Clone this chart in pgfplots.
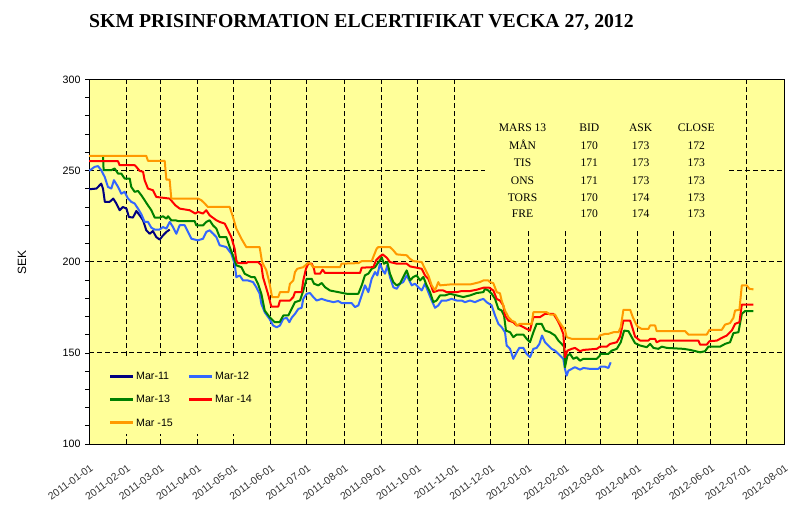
\documentclass[border=0pt]{standalone}
\usepackage{fontspec}
\setmainfont{Liberation Sans}
\newfontfamily\seriffont{Liberation Serif}
\usepackage{pgfplots}
\pgfplotsset{compat=1.18}
\definecolor{bgy}{RGB}{255,255,153}
\definecolor{cnavy}{RGB}{0,0,128}
\definecolor{cblue}{RGB}{51,102,255}
\definecolor{cgreen}{RGB}{0,128,0}
\definecolor{cred}{RGB}{255,0,0}
\definecolor{corange}{RGB}{255,153,0}
\begin{document}
\begin{tikzpicture}
\useasboundingbox (-66.9pt,-56.25pt) rectangle (542.1pt,333pt);
\begin{axis}[
  at={(0,0)}, anchor=south west,
  scale only axis, width=521.1pt, height=273.5pt,
  xmin=0, xmax=578, ymin=100, ymax=300,
  axis background/.style={fill=bgy},
  xtick={0,31,59,90,120,151,181,212,243,273,304,334,365,396,425,456,486,517,547,578},
  xticklabels={2011-01-01,2011-02-01,2011-03-01,2011-04-01,2011-05-01,2011-06-01,2011-07-01,2011-08-01,2011-09-01,2011-10-01,2011-11-01,2011-12-01,2012-01-01,2012-02-01,2012-03-01,2012-04-01,2012-05-01,2012-06-01,2012-07-01,2012-08-01},
  ytick={100,150,200,250,300},
  minor ytick={110,120,130,140,160,170,180,190,210,220,230,240,260,270,280,290},
  xtick pos=bottom, ytick pos=left,
  grid=major,
  major grid style={black, dash pattern=on 3.5pt off 2.5pt, line width=0.6pt},
  tick align=outside,
  major tick length=3pt, minor tick length=3pt,
  x tick style={draw=none},
  y tick style={black, line width=0.5pt},
  axis line style={black, line width=0.7pt},
  /pgf/number format/assume math mode=true,
  xticklabel style={font=\fontsize{7.8}{9}\selectfont, text=black!80, rotate=36, anchor=north east, inner sep=0.5pt, xshift=-6pt, yshift=-9pt},
  yticklabel style={font=\fontsize{8}{9}\selectfont},
  legend columns=2,
  legend cell align=left,
  legend style={at={(0.0275,0.2030)}, anchor=north west, draw=none, fill=none,
    inner sep=0pt, font=\fontsize{8}{9}\selectfont,
    nodes={text height=6pt, text depth=1pt, inner sep=1pt},
    row sep=8.5pt,
    /tikz/every even column/.append style={column sep=10pt}},
  legend image code/.code={\draw[#1, line width=2.2pt] (0pt,0pt) -- (17.5pt,0pt);},
  every axis plot/.append style={line width=1.5pt, line join=round},
]
\fill[bgy] (axis cs:329.3,217.2) rectangle (axis cs:531.4,299.6);
\fill[bgy] (axis cs:2.3,105.7) rectangle (axis cs:134,148);

% Mar-11
\addplot[cnavy] coordinates {(0,239.7)(6,240.1)(10,242.8)(11.5,240)(13,232.8)(17,232.8)(20,234.6)(22.6,231.9)(25.3,228.2)(28,230)(31,229.1)(33,224.5)(36.4,224.2)(39.2,227.8)(42,225.4)(44.8,222.7)(47.5,217.2)(50.3,215.3)(53,216.8)(55.8,213.5)(58.6,212.1)(61.4,214.4)(64.2,216.3)(67,217.6)};
\addlegendentry{Mar-11}
% Mar-12
\addplot[cblue] coordinates {(0,249.8)(4.5,252)(7.3,252.4)(10,250.2)(12.9,246.5)(15.6,241)(18.4,240.1)(20.6,244.7)(24,241)(26.7,237.3)(29.5,238.3)(32.3,234.6)(35,232.8)(37.8,231.9)(40.6,229.1)(43.4,226)(46.1,221.8)(48.9,221.8)(51.7,218.6)(54.5,217.6)(58.6,217.6)(61.4,219)(64.2,218.1)(67,221.8)(69.7,219)(72.5,215.3)(75.3,220)(79.4,220)(82.2,216.3)(85,212.6)(90.5,211.7)(94.7,212.6)(97.4,216.3)(100.2,217.2)(103,215.4)(105.8,213.5)(108.5,209)(114.1,208)(118.2,204.4)(121,198.9)(122.4,191.5)(125.2,192.4)(128,189.7)(132,189.7)(136.3,188.8)(139,186)(141.8,182.4)(143.2,176.9)(146,172.3)(150,168.6)(153,165)(156,164)(158.7,165)(161.5,168.7)(164.3,169.2)(166.5,166.8)(168.4,169.2)(171.2,171.4)(174,174.1)(176.7,174.7)(178.1,179.6)(180.9,182.4)(183.7,182.8)(186.4,180.6)(189.2,178.7)(193.4,179.6)(197.5,178.7)(203.1,177.8)(207.2,178.4)(210,177.3)(218.3,177.3)(221.1,175.1)(223.9,176)(226.7,181.5)(229.4,187)(232.2,183.3)(235,190.6)(237.8,194.3)(239.7,192.5)(241.9,198.9)(244.1,195.2)(246.1,193.4)(248,198)(250.2,191.6)(253,186)(255.8,185.1)(258.5,187.9)(261.3,188.8)(264.1,192.5)(266.3,189.7)(268.3,187)(271,187.9)(273.8,186)(276.6,184.2)(279.3,187.9)(282.1,183.3)(284.9,178.7)(287.7,174.7)(290.4,176)(293.2,178.7)(297.4,178.7)(301.5,179.6)(305.7,178.7)(309.9,178.7)(312.6,177.8)(316.8,178.7)(320.9,177.8)(325.1,179)(327.9,179.6)(330.6,177.8)(334.8,176)(337.6,170.5)(340.4,165.9)(343.1,164.1)(345.9,161.3)(347.3,154)(350.1,152.2)(352.8,146.7)(355.6,150.3)(357.8,152.7)(361.2,152.7)(363.9,149.4)(366.7,147.6)(369.5,152.2)(372.2,152.7)(374.5,154.9)(376.7,159.5)(379.2,155.8)(381.9,154)(384.7,152.2)(387.5,151.2)(391.7,148.5)(394.4,146.7)(395.8,141.2)(397.2,137.5)(398.6,140.2)(401.4,141.2)(404.1,142.1)(408.3,140.8)(411.1,141.7)(416.6,141.2)(423.5,141.2)(425.5,142.4)(429.1,142.4)(431.9,141.7)(433.8,144.8)};
\addlegendentry{Mar-12}
% Mar-13
\addplot[cgreen] coordinates {(11.5,257.4)(12,250.2)(18.4,250.2)(21.2,251.1)(24,248.3)(26.7,248.3)(29.5,245.6)(33.7,245.6)(35,241)(37.8,238.3)(40.6,238.8)(43.4,236.4)(46.1,233.7)(48.9,230.9)(51.7,228.2)(54.5,224.2)(58.6,224.2)(61.4,224.9)(64.2,223.6)(65.6,224.9)(68.3,222.7)(71.7,222.7)(73.9,222.3)(87.7,222.3)(89.1,219.9)(94.7,219.9)(97.4,221.8)(100.2,222.7)(103,219.9)(105.8,218.1)(108.5,213.5)(114.1,213.5)(116.9,208)(119.6,203.4)(122.4,198)(126.6,197)(129.3,193.4)(134.9,191.5)(137.7,191.5)(140.4,187.9)(143.2,182.4)(146,173.2)(150.1,169.6)(154.3,166.8)(158.4,166.8)(161.5,170.5)(165.7,170.5)(168.4,174.1)(171.2,177.8)(175.4,178.7)(178.1,184.2)(180.9,190.6)(185.1,190.6)(187,187.9)(190.6,187)(193.4,188.3)(196.2,186)(200.3,184.2)(207.2,183.3)(214.2,182.4)(223.9,182.4)(226.7,187)(229.4,192.5)(232.2,193.4)(235,196.1)(237.8,197)(239.7,198.9)(241.9,200.7)(243.3,202.5)(245.2,198.9)(248,199.8)(250.2,193.4)(253,188.8)(255.8,187)(258.5,187.9)(261.3,191.6)(264.1,195.2)(266.9,189.7)(269.6,191.6)(272.4,192.5)(275.2,189.7)(278,191.6)(280.7,187)(283.5,183.3)(286.3,177.8)(289,178.7)(291.8,181.5)(296,181.5)(300.1,182.4)(305.7,181.5)(311.2,180.6)(316.8,181.5)(322.3,182.8)(327.9,183.3)(329.3,185.1)(332,184.2)(334.8,182.4)(337.6,179.6)(340.4,174.1)(343.1,173.2)(345.1,170.5)(346.7,162.2)(350.1,161.3)(352.8,158.6)(355.6,160)(361.2,160)(363.9,157.7)(366.7,155.8)(369.5,161.3)(372.2,165.9)(376.4,165.9)(379.2,162.2)(383.3,161.3)(387.5,159.5)(390.3,156.7)(393,154.9)(395,153.4)(395.8,142.1)(397.8,148.5)(400,149.4)(402.7,146.7)(405.5,147.6)(408.3,145.7)(411.1,146.7)(422.2,146.7)(424.9,148.5)(425,149.4)(431.9,149.4)(434.7,151.2)(438.9,152.2)(442.2,155.8)(445,162.2)(448.6,161.9)(451.3,158.6)(454.1,155.3)(458.3,154)(463.8,153.1)(466.6,154.9)(469.4,152.7)(473.5,152.2)(476.3,153.4)(480.5,152.7)(494.3,152.2)(499.9,151.6)(508.2,150.3)(512.3,150.9)(515.1,153.4)(524.8,153.4)(529,154.9)(533.1,155.8)(535.9,160.8)(540.1,161.3)(542.9,171.4)(545.6,172.9)(552.6,172.9)};
\addlegendentry{Mar-13}
% Mar-14
\addplot[cred] coordinates {(0,255.1)(24,255.1)(25.3,252.9)(37.8,252.9)(39.2,252)(42,249.8)(44.8,249.3)(46.1,244.7)(48.9,240.1)(53,239.2)(55.8,235.5)(66.9,234.6)(71.7,230.9)(75.3,229.1)(83.6,228.2)(88.3,226.4)(90.5,227.3)(94.7,226.4)(97.4,228.2)(100.2,225.4)(105.8,222.7)(108.5,221.8)(112.7,220.9)(115.5,217.2)(118.2,213.5)(121,207.1)(122.4,200.7)(123.8,199.2)(130.7,199.2)(132.1,199.8)(140.4,199.8)(143.2,198)(144.6,191.5)(148.7,182.4)(151.5,175.4)(157.3,175.4)(158.7,178.7)(167,178.7)(169.8,180.6)(171.2,183.3)(176.7,183.3)(178.1,189.7)(180.3,196.1)(182.3,198.9)(185.1,198.9)(187,196.1)(187.8,193.4)(192,193.4)(194.2,195.6)(196.2,193.8)(225.3,193.8)(226.7,196.7)(236.4,197)(238.6,200.7)(241.9,202.9)(244.1,204)(247.5,202.2)(250.2,199.8)(255.8,198.9)(264.1,198.9)(266.9,197.4)(272.4,196.7)(276.6,196.1)(279.3,192.5)(282.1,190.6)(284.9,186)(286.3,183.3)(290.4,184.2)(294.6,184.2)(297.4,183.3)(305.7,183.3)(309.9,183.9)(316.8,183.9)(322.3,184.6)(327.9,185.7)(332.9,185.7)(336.2,184.2)(339,179.6)(341.7,178.7)(344.5,176)(345.9,170.5)(348.7,167.7)(352.8,166.8)(355.6,165)(358.4,165)(361.2,164.1)(363.9,163.1)(366.7,162.2)(369.5,169.6)(375,169.6)(379.2,171.4)(386.1,171.4)(388.9,168.6)(391.7,165)(394.4,160.4)(395.8,147.6)(397.8,151.2)(401.4,152.2)(404.1,152.7)(408.3,150.9)(411.1,151.6)(422.2,152.2)(424.9,153.4)(430.5,153.4)(433.3,154.9)(438.9,155.8)(441.6,158.9)(444.4,167.7)(450,167.7)(452.2,163.1)(454.1,158.9)(458.3,156.7)(465.2,156.7)(466.6,157.6)(470.8,157.6)(472.1,155.8)(474.9,156.7)(506.8,156.7)(508.2,154.5)(513.7,154.5)(516,156.4)(522.1,156.7)(526.2,158.2)(530.4,159.5)(534.5,162.2)(537.3,165.9)(540.9,166.8)(542.9,176.5)(552.6,176.5)};
\addlegendentry{Mar -14}
% Mar-15
\addplot[corange] coordinates {(0,258)(47.5,258)(48.9,255.3)(62.8,255.3)(64.2,245)(66.9,245)(68.3,234.6)(90.5,234.6)(93.3,233.7)(96.1,231.9)(98.8,230)(116.9,230)(119.6,224.5)(122.4,218.1)(126.6,212.6)(130.7,208)(141.8,208)(143.8,199.8)(147.4,195.2)(150.1,187.9)(152.1,180.6)(157.3,180.6)(158.7,183.3)(165.7,183.3)(167,187.9)(169.8,189.7)(171.2,194.3)(173.1,196.1)(178.1,197)(182.3,199.4)(184.2,198.9)(186.4,197)(208.6,197)(210,198.9)(223.9,199.2)(226.7,200.3)(235,200.3)(236.9,203.5)(239.1,207.1)(240.5,208)(250.2,208)(253,206.2)(255.8,204)(264.1,203.5)(266.9,201.6)(269.6,200.3)(276.6,199.8)(279.3,196.1)(282.1,192.5)(284.9,187)(287.7,184.2)(290.4,188.8)(291.8,187)(300.1,187.5)(316.8,187.5)(319.5,187.9)(325.1,188.8)(327.9,189.7)(332,189.7)(333.4,188.8)(336.2,188.2)(339,183.3)(341.7,182.7)(343.1,178.7)(345.9,173.2)(348.7,169.6)(351.4,167.7)(354.2,166.8)(355.6,165)(358.4,165.9)(368.1,165.9)(369.5,172.3)(380.6,172.3)(383.3,171)(387.5,171)(390.3,167.7)(393,165)(395.8,162.6)(397.2,158.6)(401.4,157.7)(423.5,157.7)(424.9,159.5)(429.1,160.4)(431.9,160.4)(436.1,161.3)(440.3,161.3)(442.2,164.1)(444.4,173.6)(450,173.6)(452.2,169.6)(455.5,165)(456.9,164.1)(459.7,163.1)(465.2,163.1)(466.6,165)(470.8,165)(472.1,161.9)(495.7,161.9)(498.5,160)(513.7,160)(516,162.6)(526.2,162.6)(529,165.5)(533.1,166.3)(535.9,169.2)(537.3,173.2)(540.9,173.6)(542.9,187)(547,187)(549.2,185.1)(552.6,184.8)};
\addlegendentry{Mar -15}
\end{axis}

% title and y label
\node[font=\seriffont\bfseries\fontsize{14.8}{17}\selectfont] at (204.2pt,316.5pt) {SKM PRISINFORMATION ELCERTIFIKAT VECKA 27, 2012};
\node[rotate=90, font=\fontsize{9}{10}\selectfont] at (-50.4pt,136.5pt) {SEK};

% price table
\begin{scope}[every node/.style={font=\seriffont\fontsize{8.7}{10}\selectfont, anchor=base, inner sep=0pt}]
\node at (325.0pt,234.3pt) {MARS 13};
\node at (375.1pt,234.3pt) {BID};
\node at (413.6pt,234.3pt) {ASK};
\node at (455.3pt,234.3pt) {CLOSE};
\node at (325.0pt,220.8pt) {MÅN};
\node at (375.1pt,220.8pt) {170};
\node at (413.6pt,220.8pt) {173};
\node at (455.3pt,220.8pt) {172};
\node at (325.0pt,207.85pt) {TIS};
\node at (375.1pt,207.85pt) {171};
\node at (413.6pt,207.85pt) {173};
\node at (455.3pt,207.85pt) {173};
\node at (325.0pt,194.35pt) {ONS};
\node at (375.1pt,194.35pt) {171};
\node at (413.6pt,194.35pt) {173};
\node at (455.3pt,194.35pt) {173};
\node at (325.0pt,181.6pt) {TORS};
\node at (375.1pt,181.6pt) {170};
\node at (413.6pt,181.6pt) {174};
\node at (455.3pt,181.6pt) {173};
\node at (325.0pt,169.6pt) {FRE};
\node at (375.1pt,169.6pt) {170};
\node at (413.6pt,169.6pt) {174};
\node at (455.3pt,169.6pt) {173};
\end{scope}
\end{tikzpicture}
\end{document}
